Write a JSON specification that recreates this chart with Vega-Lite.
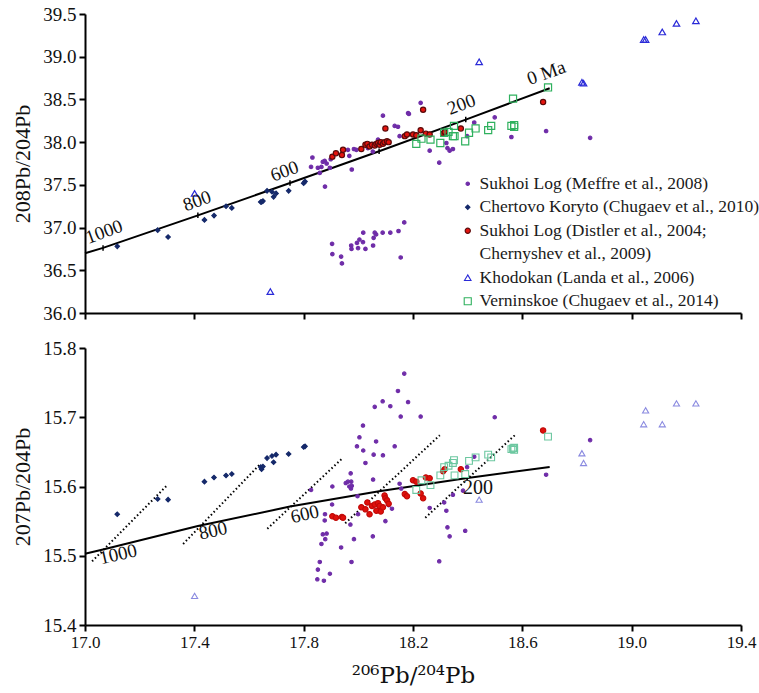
{
  "$schema": "https://vega.github.io/schema/vega-lite/v6.json",
  "padding": {"top": 5, "left": 11, "right": 10, "bottom": 0},
  "background": "white",
  "config": {
    "font": "Liberation Serif, Times New Roman, Times, serif",
    "view": {"stroke": null},
    "axis": {"domainColor": "black", "domainWidth": 2, "tickColor": "black", "tickWidth": 2, "tickSize": 6, "grid": false, "labelFlush": false, "labelFont": "Liberation Serif, Times New Roman, Times, serif", "titleFont": "Liberation Serif, Times New Roman, Times, serif", "labelColor": "#111", "titleColor": "#111", "titleFontWeight": "normal", "labelPadding": 3},
    "legend": {"labelFont": "Liberation Serif, Times New Roman, Times, serif"},
    "text": {"font": "Liberation Serif, Times New Roman, Times, serif"}
  },
  "datasets": {
    "sk": [
      {"age": 1020, "x": 17.0, "pb208": 36.70, "pb207": 15.503},
      {"age": 1000, "x": 17.066, "pb208": 36.762, "pb207": 15.509},
      {"age": 800, "x": 17.413, "pb208": 37.143, "pb207": 15.543},
      {"age": 600, "x": 17.750, "pb208": 37.521, "pb207": 15.571},
      {"age": 400, "x": 18.076, "pb208": 37.894, "pb207": 15.593},
      {"age": 200, "x": 18.393, "pb208": 38.264, "pb207": 15.612},
      {"age": 0, "x": 18.700, "pb208": 38.631, "pb207": 15.628}
    ],
    "iso": [
      {"age": 1000, "x": 17.026, "pb207": 15.492}, {"age": 1000, "x": 17.301, "pb207": 15.602},
      {"age": 800, "x": 17.359, "pb207": 15.517}, {"age": 800, "x": 17.640, "pb207": 15.632},
      {"age": 600, "x": 17.667, "pb207": 15.539}, {"age": 600, "x": 17.940, "pb207": 15.640},
      {"age": 400, "x": 17.952, "pb207": 15.547}, {"age": 400, "x": 18.298, "pb207": 15.674},
      {"age": 200, "x": 18.245, "pb207": 15.555}, {"age": 200, "x": 18.578, "pb207": 15.676}
    ],
    "lab": [
      {"panel": "top", "text": "1000", "x": 17.07, "y": 36.95},
      {"panel": "top", "text": "800", "x": 17.41, "y": 37.31},
      {"panel": "top", "text": "600", "x": 17.73, "y": 37.66},
      {"panel": "top", "text": "200", "x": 18.377, "y": 38.44},
      {"panel": "top", "text": "0 Ma", "x": 18.688, "y": 38.81},
      {"panel": "bottom", "text": "1000", "x": 17.121, "y": 15.502},
      {"panel": "bottom", "text": "800", "x": 17.468, "y": 15.536},
      {"panel": "bottom", "text": "600", "x": 17.804, "y": 15.560},
      {"panel": "bottom200", "text": "200", "x": 18.438, "y": 15.598}
    ],
    "pts": [
      {"series": "Sukhoi Log (Meffre et al., 2008)", "x": 17.827, "pb208": 37.71, "pb207": 15.595},
      {"series": "Sukhoi Log (Meffre et al., 2008)", "x": 17.832, "pb208": 37.82, "pb207": null},
      {"series": "Sukhoi Log (Meffre et al., 2008)", "x": 17.852, "pb208": 37.70, "pb207": 15.480},
      {"series": "Sukhoi Log (Meffre et al., 2008)", "x": 17.850, "pb208": null, "pb207": 15.466},
      {"series": "Sukhoi Log (Meffre et al., 2008)", "x": 17.859, "pb208": 37.64, "pb207": 15.491},
      {"series": "Sukhoi Log (Meffre et al., 2008)", "x": 17.865, "pb208": 37.71, "pb207": 15.517},
      {"series": "Sukhoi Log (Meffre et al., 2008)", "x": 17.870, "pb208": 37.77, "pb207": 15.531},
      {"series": "Sukhoi Log (Meffre et al., 2008)", "x": 17.874, "pb208": null, "pb207": 15.464},
      {"series": "Sukhoi Log (Meffre et al., 2008)", "x": 17.877, "pb208": 37.78, "pb207": 15.551},
      {"series": "Sukhoi Log (Meffre et al., 2008)", "x": 17.878, "pb208": 37.48, "pb207": 15.560},
      {"series": "Sukhoi Log (Meffre et al., 2008)", "x": 17.879, "pb208": null, "pb207": 15.524},
      {"series": "Sukhoi Log (Meffre et al., 2008)", "x": 17.884, "pb208": 37.75, "pb207": 15.532},
      {"series": "Sukhoi Log (Meffre et al., 2008)", "x": 17.896, "pb208": 37.70, "pb207": 15.474},
      {"series": "Sukhoi Log (Meffre et al., 2008)", "x": 17.899, "pb208": 37.80, "pb207": null},
      {"series": "Sukhoi Log (Meffre et al., 2008)", "x": 17.904, "pb208": 36.81, "pb207": 15.574},
      {"series": "Sukhoi Log (Meffre et al., 2008)", "x": 17.905, "pb208": 36.69, "pb207": 15.600},
      {"series": "Sukhoi Log (Meffre et al., 2008)", "x": 17.937, "pb208": 36.66, "pb207": 15.512},
      {"series": "Sukhoi Log (Meffre et al., 2008)", "x": 17.940, "pb208": 36.58, "pb207": null},
      {"series": "Sukhoi Log (Meffre et al., 2008)", "x": 17.954, "pb208": null, "pb207": 15.605},
      {"series": "Sukhoi Log (Meffre et al., 2008)", "x": 17.962, "pb208": 37.91, "pb207": 15.607},
      {"series": "Sukhoi Log (Meffre et al., 2008)", "x": 17.967, "pb208": 37.84, "pb207": 15.600},
      {"series": "Sukhoi Log (Meffre et al., 2008)", "x": 17.971, "pb208": null, "pb207": 15.545},
      {"series": "Sukhoi Log (Meffre et al., 2008)", "x": 17.972, "pb208": null, "pb207": 15.619},
      {"series": "Sukhoi Log (Meffre et al., 2008)", "x": 17.973, "pb208": null, "pb207": 15.597},
      {"series": "Sukhoi Log (Meffre et al., 2008)", "x": 17.974, "pb208": 36.79, "pb207": 15.607},
      {"series": "Sukhoi Log (Meffre et al., 2008)", "x": 17.975, "pb208": 36.75, "pb207": 15.491},
      {"series": "Sukhoi Log (Meffre et al., 2008)", "x": 17.976, "pb208": 37.68, "pb207": 15.601},
      {"series": "Sukhoi Log (Meffre et al., 2008)", "x": 17.984, "pb208": 37.92, "pb207": 15.524},
      {"series": "Sukhoi Log (Meffre et al., 2008)", "x": 17.993, "pb208": 37.91, "pb207": null},
      {"series": "Sukhoi Log (Meffre et al., 2008)", "x": 17.995, "pb208": 36.82, "pb207": 15.658},
      {"series": "Sukhoi Log (Meffre et al., 2008)", "x": 17.997, "pb208": null, "pb207": 15.586},
      {"series": "Sukhoi Log (Meffre et al., 2008)", "x": 17.999, "pb208": 36.76, "pb207": 15.560},
      {"series": "Sukhoi Log (Meffre et al., 2008)", "x": 18.004, "pb208": 36.86, "pb207": 15.671},
      {"series": "Sukhoi Log (Meffre et al., 2008)", "x": 18.017, "pb208": 36.83, "pb207": 15.688},
      {"series": "Sukhoi Log (Meffre et al., 2008)", "x": 18.018, "pb208": 36.94, "pb207": 15.652},
      {"series": "Sukhoi Log (Meffre et al., 2008)", "x": 18.026, "pb208": 36.75, "pb207": 15.634},
      {"series": "Sukhoi Log (Meffre et al., 2008)", "x": 18.035, "pb208": 37.93, "pb207": null},
      {"series": "Sukhoi Log (Meffre et al., 2008)", "x": 18.053, "pb208": 37.89, "pb207": 15.528},
      {"series": "Sukhoi Log (Meffre et al., 2008)", "x": 18.054, "pb208": 36.79, "pb207": 15.610},
      {"series": "Sukhoi Log (Meffre et al., 2008)", "x": 18.056, "pb208": 36.88, "pb207": 15.646},
      {"series": "Sukhoi Log (Meffre et al., 2008)", "x": 18.060, "pb208": 36.94, "pb207": 15.715},
      {"series": "Sukhoi Log (Meffre et al., 2008)", "x": 18.065, "pb208": 36.92, "pb207": 15.665},
      {"series": "Sukhoi Log (Meffre et al., 2008)", "x": 18.072, "pb208": 38.03, "pb207": null},
      {"series": "Sukhoi Log (Meffre et al., 2008)", "x": 18.089, "pb208": 36.94, "pb207": 15.723},
      {"series": "Sukhoi Log (Meffre et al., 2008)", "x": 18.090, "pb208": 38.31, "pb207": 15.645},
      {"series": "Sukhoi Log (Meffre et al., 2008)", "x": 18.099, "pb208": null, "pb207": 15.550},
      {"series": "Sukhoi Log (Meffre et al., 2008)", "x": 18.111, "pb208": null, "pb207": 15.573},
      {"series": "Sukhoi Log (Meffre et al., 2008)", "x": 18.117, "pb208": 36.94, "pb207": 15.716},
      {"series": "Sukhoi Log (Meffre et al., 2008)", "x": 18.123, "pb208": null, "pb207": 15.568},
      {"series": "Sukhoi Log (Meffre et al., 2008)", "x": 18.133, "pb208": 38.19, "pb207": 15.658},
      {"series": "Sukhoi Log (Meffre et al., 2008)", "x": 18.145, "pb208": 38.18, "pb207": 15.738},
      {"series": "Sukhoi Log (Meffre et al., 2008)", "x": 18.147, "pb208": 36.96, "pb207": null},
      {"series": "Sukhoi Log (Meffre et al., 2008)", "x": 18.151, "pb208": 38.07, "pb207": 15.604},
      {"series": "Sukhoi Log (Meffre et al., 2008)", "x": 18.155, "pb208": 36.65, "pb207": 15.701},
      {"series": "Sukhoi Log (Meffre et al., 2008)", "x": 18.157, "pb208": null, "pb207": 15.597},
      {"series": "Sukhoi Log (Meffre et al., 2008)", "x": 18.168, "pb208": 37.06, "pb207": 15.763},
      {"series": "Sukhoi Log (Meffre et al., 2008)", "x": 18.182, "pb208": 38.34, "pb207": 15.722},
      {"series": "Sukhoi Log (Meffre et al., 2008)", "x": 18.185, "pb208": 38.33, "pb207": null},
      {"series": "Sukhoi Log (Meffre et al., 2008)", "x": 18.228, "pb208": 38.46, "pb207": 15.701},
      {"series": "Sukhoi Log (Meffre et al., 2008)", "x": 18.261, "pb208": 37.90, "pb207": 15.569},
      {"series": "Sukhoi Log (Meffre et al., 2008)", "x": 18.296, "pb208": 37.76, "pb207": 15.492},
      {"series": "Sukhoi Log (Meffre et al., 2008)", "x": 18.314, "pb208": null, "pb207": 15.577},
      {"series": "Sukhoi Log (Meffre et al., 2008)", "x": 18.322, "pb208": 37.99, "pb207": 15.565},
      {"series": "Sukhoi Log (Meffre et al., 2008)", "x": 18.326, "pb208": 37.93, "pb207": 15.541},
      {"series": "Sukhoi Log (Meffre et al., 2008)", "x": 18.334, "pb208": 37.90, "pb207": 15.528},
      {"series": "Sukhoi Log (Meffre et al., 2008)", "x": 18.346, "pb208": 37.92, "pb207": 15.588},
      {"series": "Sukhoi Log (Meffre et al., 2008)", "x": 18.383, "pb208": null, "pb207": 15.594},
      {"series": "Sukhoi Log (Meffre et al., 2008)", "x": 18.391, "pb208": null, "pb207": 15.536},
      {"series": "Sukhoi Log (Meffre et al., 2008)", "x": 18.398, "pb208": 38.07, "pb207": 15.628},
      {"series": "Sukhoi Log (Meffre et al., 2008)", "x": 18.424, "pb208": 38.23, "pb207": 15.643},
      {"series": "Sukhoi Log (Meffre et al., 2008)", "x": 18.499, "pb208": 38.29, "pb207": 15.700},
      {"series": "Sukhoi Log (Meffre et al., 2008)", "x": 18.560, "pb208": 38.06, "pb207": null},
      {"series": "Sukhoi Log (Meffre et al., 2008)", "x": 18.687, "pb208": 38.13, "pb207": 15.617},
      {"series": "Sukhoi Log (Meffre et al., 2008)", "x": 18.848, "pb208": 38.05, "pb207": 15.667},

      {"series": "Chertovo Koryto (Chugaev et al., 2010)", "x": 17.118, "pb208": 36.78, "pb207": 15.560},
      {"series": "Chertovo Koryto (Chugaev et al., 2010)", "x": 17.266, "pb208": 36.97, "pb207": 15.582},
      {"series": "Chertovo Koryto (Chugaev et al., 2010)", "x": 17.304, "pb208": 36.89, "pb207": 15.581},
      {"series": "Chertovo Koryto (Chugaev et al., 2010)", "x": 17.437, "pb208": 37.09, "pb207": 15.607},
      {"series": "Chertovo Koryto (Chugaev et al., 2010)", "x": 17.472, "pb208": 37.14, "pb207": 15.613},
      {"series": "Chertovo Koryto (Chugaev et al., 2010)", "x": 17.516, "pb208": 37.25, "pb207": 15.616},
      {"series": "Chertovo Koryto (Chugaev et al., 2010)", "x": 17.537, "pb208": 37.23, "pb207": 15.618},
      {"series": "Chertovo Koryto (Chugaev et al., 2010)", "x": 17.643, "pb208": 37.30, "pb207": 15.628},
      {"series": "Chertovo Koryto (Chugaev et al., 2010)", "x": 17.651, "pb208": 37.31, "pb207": 15.629},
      {"series": "Chertovo Koryto (Chugaev et al., 2010)", "x": 17.646, "pb208": 37.30, "pb207": 15.625},
      {"series": "Chertovo Koryto (Chugaev et al., 2010)", "x": 17.666, "pb208": 37.43, "pb207": 15.641},
      {"series": "Chertovo Koryto (Chugaev et al., 2010)", "x": 17.690, "pb208": 37.36, "pb207": 15.635},
      {"series": "Chertovo Koryto (Chugaev et al., 2010)", "x": 17.684, "pb208": 37.42, "pb207": 15.644},
      {"series": "Chertovo Koryto (Chugaev et al., 2010)", "x": 17.699, "pb208": 37.40, "pb207": 15.646},
      {"series": "Chertovo Koryto (Chugaev et al., 2010)", "x": 17.745, "pb208": 37.43, "pb207": 15.647},
      {"series": "Chertovo Koryto (Chugaev et al., 2010)", "x": 17.800, "pb208": 37.52, "pb207": 15.657},
      {"series": "Chertovo Koryto (Chugaev et al., 2010)", "x": 17.805, "pb208": 37.54, "pb207": 15.658},

      {"series": "Sukhoi Log (Distler et al., 2004; Chernyshev et al., 2009)", "x": 17.905, "pb208": 37.83, "pb207": 15.557},
      {"series": "Sukhoi Log (Distler et al., 2004; Chernyshev et al., 2009)", "x": 17.918, "pb208": 37.87, "pb207": 15.555},
      {"series": "Sukhoi Log (Distler et al., 2004; Chernyshev et al., 2009)", "x": 17.940, "pb208": 37.85, "pb207": 15.556},
      {"series": "Sukhoi Log (Distler et al., 2004; Chernyshev et al., 2009)", "x": 17.944, "pb208": 37.91, "pb207": 15.555},
      {"series": "Sukhoi Log (Distler et al., 2004; Chernyshev et al., 2009)", "x": 18.011, "pb208": 37.92, "pb207": 15.570},
      {"series": "Sukhoi Log (Distler et al., 2004; Chernyshev et al., 2009)", "x": 18.026, "pb208": 37.97, "pb207": 15.567},
      {"series": "Sukhoi Log (Distler et al., 2004; Chernyshev et al., 2009)", "x": 18.033, "pb208": 37.98, "pb207": 15.577},
      {"series": "Sukhoi Log (Distler et al., 2004; Chernyshev et al., 2009)", "x": 18.041, "pb208": 37.95, "pb207": 15.560},
      {"series": "Sukhoi Log (Distler et al., 2004; Chernyshev et al., 2009)", "x": 18.050, "pb208": 37.97, "pb207": 15.572},
      {"series": "Sukhoi Log (Distler et al., 2004; Chernyshev et al., 2009)", "x": 18.060, "pb208": 37.96, "pb207": 15.574},
      {"series": "Sukhoi Log (Distler et al., 2004; Chernyshev et al., 2009)", "x": 18.066, "pb208": 37.98, "pb207": 15.565},
      {"series": "Sukhoi Log (Distler et al., 2004; Chernyshev et al., 2009)", "x": 18.072, "pb208": 37.99, "pb207": 15.576},
      {"series": "Sukhoi Log (Distler et al., 2004; Chernyshev et al., 2009)", "x": 18.078, "pb208": 37.97, "pb207": 15.572},
      {"series": "Sukhoi Log (Distler et al., 2004; Chernyshev et al., 2009)", "x": 18.082, "pb208": 38.00, "pb207": 15.564},
      {"series": "Sukhoi Log (Distler et al., 2004; Chernyshev et al., 2009)", "x": 18.090, "pb208": 37.98, "pb207": 15.570},
      {"series": "Sukhoi Log (Distler et al., 2004; Chernyshev et al., 2009)", "x": 18.096, "pb208": 38.00, "pb207": 15.587},
      {"series": "Sukhoi Log (Distler et al., 2004; Chernyshev et al., 2009)", "x": 18.099, "pb208": 38.16, "pb207": 15.583},
      {"series": "Sukhoi Log (Distler et al., 2004; Chernyshev et al., 2009)", "x": 18.105, "pb208": 38.01, "pb207": 15.580},
      {"series": "Sukhoi Log (Distler et al., 2004; Chernyshev et al., 2009)", "x": 18.111, "pb208": 38.00, "pb207": 15.575},
      {"series": "Sukhoi Log (Distler et al., 2004; Chernyshev et al., 2009)", "x": 18.170, "pb208": 38.07, "pb207": 15.589},
      {"series": "Sukhoi Log (Distler et al., 2004; Chernyshev et al., 2009)", "x": 18.178, "pb208": 38.09, "pb207": 15.586},
      {"series": "Sukhoi Log (Distler et al., 2004; Chernyshev et al., 2009)", "x": 18.200, "pb208": 38.09, "pb207": 15.609},
      {"series": "Sukhoi Log (Distler et al., 2004; Chernyshev et al., 2009)", "x": 18.212, "pb208": 38.08, "pb207": 15.607},
      {"series": "Sukhoi Log (Distler et al., 2004; Chernyshev et al., 2009)", "x": 18.228, "pb208": 38.14, "pb207": 15.590},
      {"series": "Sukhoi Log (Distler et al., 2004; Chernyshev et al., 2009)", "x": 18.237, "pb208": 38.38, "pb207": 15.583},
      {"series": "Sukhoi Log (Distler et al., 2004; Chernyshev et al., 2009)", "x": 18.247, "pb208": 38.10, "pb207": 15.613},
      {"series": "Sukhoi Log (Distler et al., 2004; Chernyshev et al., 2009)", "x": 18.261, "pb208": 38.09, "pb207": 15.612},
      {"series": "Sukhoi Log (Distler et al., 2004; Chernyshev et al., 2009)", "x": 18.310, "pb208": 38.10, "pb207": 15.622},
      {"series": "Sukhoi Log (Distler et al., 2004; Chernyshev et al., 2009)", "x": 18.316, "pb208": 38.12, "pb207": 15.625},
      {"series": "Sukhoi Log (Distler et al., 2004; Chernyshev et al., 2009)", "x": 18.375, "pb208": 38.16, "pb207": 15.625},
      {"series": "Sukhoi Log (Distler et al., 2004; Chernyshev et al., 2009)", "x": 18.676, "pb208": 38.47, "pb207": 15.681},

      {"series": "Khodokan (Landa et al., 2006)", "x": 17.401, "pb208": 37.40, "pb207": 15.442},
      {"series": "Khodokan (Landa et al., 2006)", "x": 17.678, "pb208": 36.25, "pb207": null},
      {"series": "Khodokan (Landa et al., 2006)", "x": 18.442, "pb208": 38.94, "pb207": 15.581},
      {"series": "Khodokan (Landa et al., 2006)", "x": 18.818, "pb208": 38.70, "pb207": 15.648},
      {"series": "Khodokan (Landa et al., 2006)", "x": 18.824, "pb208": 38.69, "pb207": 15.634},
      {"series": "Khodokan (Landa et al., 2006)", "x": 19.044, "pb208": 39.20, "pb207": 15.690},
      {"series": "Khodokan (Landa et al., 2006)", "x": 19.051, "pb208": 39.20, "pb207": 15.710},
      {"series": "Khodokan (Landa et al., 2006)", "x": 19.112, "pb208": 39.29, "pb207": 15.690},
      {"series": "Khodokan (Landa et al., 2006)", "x": 19.164, "pb208": 39.39, "pb207": 15.720},
      {"series": "Khodokan (Landa et al., 2006)", "x": 19.235, "pb208": 39.42, "pb207": 15.720},

      {"series": "Verninskoe (Chugaev et al., 2014)", "x": 18.694, "pb208": 38.64, "pb207": 15.672},
      {"series": "Verninskoe (Chugaev et al., 2014)", "x": 18.566, "pb208": 38.51, "pb207": 15.655},
      {"series": "Verninskoe (Chugaev et al., 2014)", "x": 18.560, "pb208": 38.19, "pb207": 15.654},
      {"series": "Verninskoe (Chugaev et al., 2014)", "x": 18.570, "pb208": 38.20, "pb207": 15.656},
      {"series": "Verninskoe (Chugaev et al., 2014)", "x": 18.570, "pb208": 38.18, "pb207": 15.653},
      {"series": "Verninskoe (Chugaev et al., 2014)", "x": 18.486, "pb208": 38.19, "pb207": 15.642},
      {"series": "Verninskoe (Chugaev et al., 2014)", "x": 18.475, "pb208": 38.14, "pb207": 15.646},
      {"series": "Verninskoe (Chugaev et al., 2014)", "x": 18.429, "pb208": 38.16, "pb207": 15.642},
      {"series": "Verninskoe (Chugaev et al., 2014)", "x": 18.405, "pb208": 38.11, "pb207": 15.637},
      {"series": "Verninskoe (Chugaev et al., 2014)", "x": 18.391, "pb208": 38.01, "pb207": 15.618},
      {"series": "Verninskoe (Chugaev et al., 2014)", "x": 18.352, "pb208": 38.07, "pb207": 15.616},
      {"series": "Verninskoe (Chugaev et al., 2014)", "x": 18.350, "pb208": 38.19, "pb207": 15.638},
      {"series": "Verninskoe (Chugaev et al., 2014)", "x": 18.346, "pb208": 38.07, "pb207": 15.634},
      {"series": "Verninskoe (Chugaev et al., 2014)", "x": 18.330, "pb208": 38.12, "pb207": 15.630},
      {"series": "Verninskoe (Chugaev et al., 2014)", "x": 18.314, "pb208": 38.11, "pb207": 15.628},
      {"series": "Verninskoe (Chugaev et al., 2014)", "x": 18.300, "pb208": 37.99, "pb207": 15.616},
      {"series": "Verninskoe (Chugaev et al., 2014)", "x": 18.264, "pb208": 38.03, "pb207": 15.602},
      {"series": "Verninskoe (Chugaev et al., 2014)", "x": 18.231, "pb208": 38.04, "pb207": 15.609},
      {"series": "Verninskoe (Chugaev et al., 2014)", "x": 18.212, "pb208": 37.98, "pb207": 15.595}
    ]
  },
  "resolve": {"scale": {"y": "independent", "shape": "independent", "fill": "independent", "stroke": "independent", "size": "independent"}, "legend": {"shape": "independent", "fill": "independent", "stroke": "independent", "size": "independent"}},
  "spacing": 16,
  "vconcat": [
    {
      "width": 656,
      "height": 299,
      "layer": [
        {
          "data": {"name": "sk"},
          "mark": {"type": "line", "color": "black", "strokeWidth": 2},
          "encoding": {
            "x": {"field": "x", "type": "quantitative", "scale": {"domain": [17, 19.4], "nice": false}, "axis": {"values": [17, 17.4, 17.8, 18.2, 18.6, 19.0, 19.4], "labels": false, "title": null}},
            "y": {"field": "pb208", "type": "quantitative", "scale": {"domain": [36, 39.5], "nice": false, "zero": false}, "axis": {"values": [36, 36.5, 37, 37.5, 38, 38.5, 39, 39.5], "format": ".1f", "title": "208Pb/204Pb", "labelFontSize": 19, "titleFontSize": 22, "titlePadding": 8}}
          }
        },
        {
          "data": {"name": "sk"},
          "transform": [{"filter": "datum.age > 0 && datum.age <= 1000"}],
          "mark": {"type": "point", "shape": "M0,-1L0,1", "size": 30, "stroke": "black", "strokeWidth": 1.5, "filled": false, "opacity": 1},
          "encoding": {
            "x": {"field": "x", "type": "quantitative"},
            "y": {"field": "pb208", "type": "quantitative"}
          }
        },
        {
          "data": {"name": "pts"},
          "mark": {"type": "point", "filled": true, "opacity": 1, "strokeWidth": 1.2},
          "encoding": {
            "x": {"field": "x", "type": "quantitative"},
            "y": {"field": "pb208", "type": "quantitative"},
            "shape": {"field": "series", "type": "nominal", "scale": {"domain": ["Sukhoi Log (Meffre et al., 2008)", "Chertovo Koryto (Chugaev et al., 2010)", "Sukhoi Log (Distler et al., 2004; Chernyshev et al., 2009)", "Chernyshev et al., 2009)", "Khodokan (Landa et al., 2006)", "Verninskoe (Chugaev et al., 2014)"], "range": ["circle", "diamond", "circle", "circle", "triangle-up", "square"]},
              "legend": {"title": null, "orient": "none", "legendX": 374, "legendY": 161, "labelFont": "Liberation Serif, Times New Roman, Times, serif", "labelFontSize": 17.5, "labelColor": "#1a1a1a", "labelLimit": 400, "rowPadding": 4.5, "labelOffset": 3, "padding": 0, "symbolStrokeWidth": 1.1, "labelExpr": "datum.label == 'Sukhoi Log (Distler et al., 2004; Chernyshev et al., 2009)' ? 'Sukhoi Log (Distler et al., 2004;' : datum.label"}},
            "fill": {"field": "series", "type": "nominal", "scale": {"domain": ["Sukhoi Log (Meffre et al., 2008)", "Chertovo Koryto (Chugaev et al., 2010)", "Sukhoi Log (Distler et al., 2004; Chernyshev et al., 2009)", "Chernyshev et al., 2009)", "Khodokan (Landa et al., 2006)", "Verninskoe (Chugaev et al., 2014)"], "range": ["#6f2da8", "#15296a", "#e5140f", "transparent", "transparent", "transparent"]},
              "legend": {"title": null, "orient": "none", "legendX": 374, "legendY": 161, "labelFont": "Liberation Serif, Times New Roman, Times, serif", "labelFontSize": 17.5, "labelColor": "#1a1a1a", "labelLimit": 400, "rowPadding": 4.5, "labelOffset": 3, "padding": 0, "symbolStrokeWidth": 1.1, "labelExpr": "datum.label == 'Sukhoi Log (Distler et al., 2004; Chernyshev et al., 2009)' ? 'Sukhoi Log (Distler et al., 2004;' : datum.label"}},
            "stroke": {"field": "series", "type": "nominal", "scale": {"domain": ["Sukhoi Log (Meffre et al., 2008)", "Chertovo Koryto (Chugaev et al., 2010)", "Sukhoi Log (Distler et al., 2004; Chernyshev et al., 2009)", "Chernyshev et al., 2009)", "Khodokan (Landa et al., 2006)", "Verninskoe (Chugaev et al., 2014)"], "range": ["#6f2da8", "#15296a", "#5a0a0a", "transparent", "#2a2ad8", "#2fb15e"]},
              "legend": {"title": null, "orient": "none", "legendX": 374, "legendY": 161, "labelFont": "Liberation Serif, Times New Roman, Times, serif", "labelFontSize": 17.5, "labelColor": "#1a1a1a", "labelLimit": 400, "rowPadding": 4.5, "labelOffset": 3, "padding": 0, "symbolStrokeWidth": 1.1, "labelExpr": "datum.label == 'Sukhoi Log (Distler et al., 2004; Chernyshev et al., 2009)' ? 'Sukhoi Log (Distler et al., 2004;' : datum.label"}},
            "size": {"field": "series", "type": "nominal", "scale": {"domain": ["Sukhoi Log (Meffre et al., 2008)", "Chertovo Koryto (Chugaev et al., 2010)", "Sukhoi Log (Distler et al., 2004; Chernyshev et al., 2009)", "Chernyshev et al., 2009)", "Khodokan (Landa et al., 2006)", "Verninskoe (Chugaev et al., 2014)"], "range": [12, 50, 85, 0, 46, 58]},
              "legend": {"title": null, "orient": "none", "legendX": 374, "legendY": 161, "labelFont": "Liberation Serif, Times New Roman, Times, serif", "labelFontSize": 17.5, "labelColor": "#1a1a1a", "labelLimit": 400, "rowPadding": 4.5, "labelOffset": 3, "padding": 0, "symbolStrokeWidth": 1.1, "labelExpr": "datum.label == 'Sukhoi Log (Distler et al., 2004; Chernyshev et al., 2009)' ? 'Sukhoi Log (Distler et al., 2004;' : datum.label"}}
          }
        },
        {
          "data": {"name": "lab"},
          "transform": [{"filter": "datum.panel == 'top'"}],
          "mark": {"type": "text", "font": "Liberation Serif, Times New Roman, Times, serif", "fontSize": 19, "angle": -20, "align": "center", "baseline": "middle", "color": "#111"},
          "encoding": {
            "x": {"field": "x", "type": "quantitative"},
            "y": {"field": "y", "type": "quantitative"},
            "text": {"field": "text"}
          }
        }
      ]
    },
    {
      "width": 656,
      "height": 277,
      "layer": [
        {
          "data": {"name": "sk"},
          "mark": {"type": "line", "color": "black", "strokeWidth": 2},
          "encoding": {
            "x": {"field": "x", "type": "quantitative", "scale": {"domain": [17, 19.4], "nice": false}, "axis": {"values": [17, 17.4, 17.8, 18.2, 18.6, 19.0, 19.4], "format": ".1f", "title": "²⁰⁶Pb/²⁰⁴Pb", "titleFont": "DejaVu Serif", "labelFontSize": 17, "titleFontSize": 23, "titlePadding": 14}},
            "y": {"field": "pb207", "type": "quantitative", "scale": {"domain": [15.4, 15.8], "nice": false, "zero": false}, "axis": {"values": [15.4, 15.5, 15.6, 15.7, 15.8], "format": ".1f", "title": "207Pb/204Pb", "labelFontSize": 19, "titleFontSize": 22, "titlePadding": 8}}
          }
        },
        {
          "data": {"name": "iso"},
          "mark": {"type": "line", "color": "black", "strokeWidth": 2, "strokeDash": [1.5, 2.5]},
          "encoding": {
            "x": {"field": "x", "type": "quantitative"},
            "y": {"field": "pb207", "type": "quantitative"},
            "detail": {"field": "age", "type": "nominal"}
          }
        },
        {
          "data": {"name": "pts"},
          "mark": {"type": "point", "filled": true, "opacity": 1, "strokeWidth": 1.1},
          "encoding": {
            "x": {"field": "x", "type": "quantitative"},
            "y": {"field": "pb207", "type": "quantitative"},
            "shape": {"field": "series", "type": "nominal", "scale": {"domain": ["Sukhoi Log (Meffre et al., 2008)", "Chertovo Koryto (Chugaev et al., 2010)", "Sukhoi Log (Distler et al., 2004; Chernyshev et al., 2009)", "Khodokan (Landa et al., 2006)", "Verninskoe (Chugaev et al., 2014)"], "range": ["circle", "diamond", "circle", "triangle-up", "square"]}, "legend": null},
            "fill": {"field": "series", "type": "nominal", "scale": {"domain": ["Sukhoi Log (Meffre et al., 2008)", "Chertovo Koryto (Chugaev et al., 2010)", "Sukhoi Log (Distler et al., 2004; Chernyshev et al., 2009)", "Khodokan (Landa et al., 2006)", "Verninskoe (Chugaev et al., 2014)"], "range": ["#6f2da8", "#15296a", "#e0100c", "transparent", "transparent"]}, "legend": null},
            "stroke": {"field": "series", "type": "nominal", "scale": {"domain": ["Sukhoi Log (Meffre et al., 2008)", "Chertovo Koryto (Chugaev et al., 2010)", "Sukhoi Log (Distler et al., 2004; Chernyshev et al., 2009)", "Khodokan (Landa et al., 2006)", "Verninskoe (Chugaev et al., 2014)"], "range": ["#6f2da8", "#15296a", "#c00a08", "#8a8ae0", "#6cc7a0"]}, "legend": null},
            "size": {"field": "series", "type": "nominal", "scale": {"domain": ["Sukhoi Log (Meffre et al., 2008)", "Chertovo Koryto (Chugaev et al., 2010)", "Sukhoi Log (Distler et al., 2004; Chernyshev et al., 2009)", "Khodokan (Landa et al., 2006)", "Verninskoe (Chugaev et al., 2014)"], "range": [12, 46, 75, 40, 58]}, "legend": null}
          }
        },
        {
          "data": {"name": "lab"},
          "transform": [{"filter": "datum.panel == 'bottom'"}],
          "mark": {"type": "text", "font": "Liberation Serif, Times New Roman, Times, serif", "fontSize": 19, "angle": -13, "align": "center", "baseline": "middle", "color": "#111"},
          "encoding": {
            "x": {"field": "x", "type": "quantitative"},
            "y": {"field": "y", "type": "quantitative"},
            "text": {"field": "text"}
          }
        },
        {
          "data": {"name": "lab"},
          "transform": [{"filter": "datum.panel == 'bottom200'"}],
          "mark": {"type": "text", "font": "Liberation Serif, Times New Roman, Times, serif", "fontSize": 20, "align": "center", "baseline": "middle", "color": "#111"},
          "encoding": {
            "x": {"field": "x", "type": "quantitative"},
            "y": {"field": "y", "type": "quantitative"},
            "text": {"field": "text"}
          }
        }
      ]
    }
  ]
}
